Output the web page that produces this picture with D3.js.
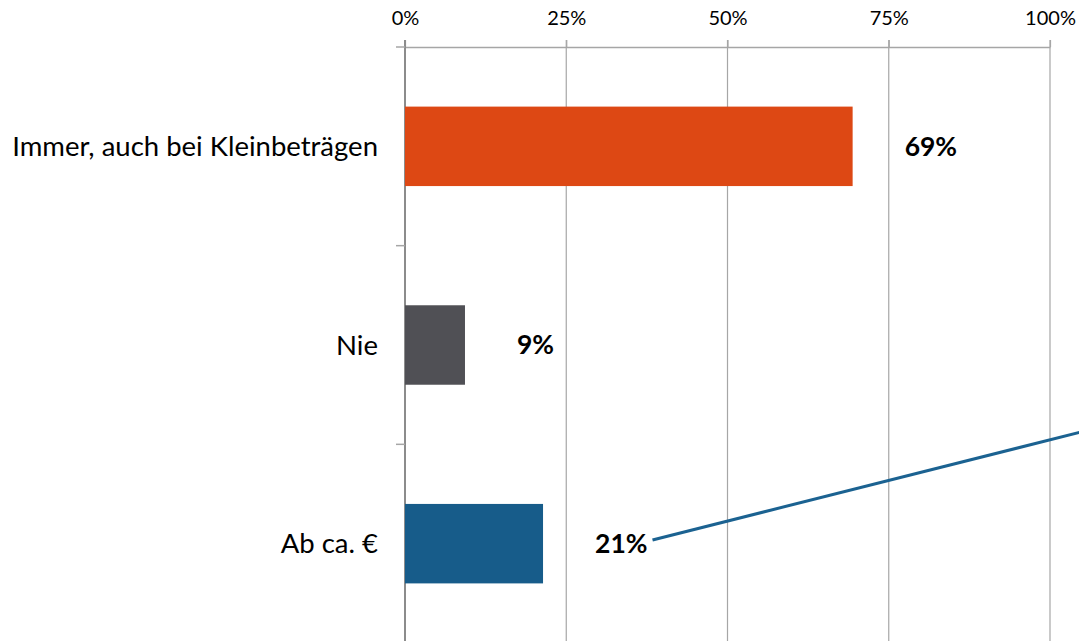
<!DOCTYPE html>
<html>
<head>
<meta charset="utf-8">
<script src="https://cdn.jsdelivr.net/npm/d3@7"></script>
<style>
  body { margin: 0; background: #fff; }
  svg { display: block; font-family: Lato, "Open Sans", sans-serif; }
</style>
</head>
<body>
<script>
// chart data
var categories = ["Immer, auch bei Kleinbeträgen", "Nie", "Ab ca. €"];
var values = [69.4, 9.3, 21.4];
var colors = ["#dd4814", "#505055", "#175c8a"];
var ticks = [0, 25, 50, 75, 100];

var width = 1079,
    height = 641;
var margin = {top: 47, right: 29, bottom: -2, left: 405};

var svg = d3.select("body").append("svg").attr("width", width).attr("height", height);

var x = d3.scaleLinear()
    .domain([0, 100])
    .range([margin.left, width - margin.right]);

var y = d3.scaleBand()
    .domain(categories)
    .range([margin.top, height - margin.bottom])
    .paddingInner(0.6)
    .paddingOuter(0.3);

// vertical gridlines
svg.append("g").selectAll("line").data(ticks).enter().append("line")
    .attr("x1", d => x(d)).attr("x2", d => x(d))
    .attr("y1", margin.top - 7).attr("y2", height)
    .attr("stroke", "#a6a6a6")
    .attr("stroke-width", 1.2);

// top axis
var gx = svg.append("g")
    .attr("transform", "translate(0," + margin.top + ")")
    .call(d3.axisTop(x).tickValues(ticks).tickFormat(d => d + "%")
        .tickSizeInner(7).tickSizeOuter(0).tickPadding(15));
gx.select(".domain").attr("stroke", "#a6a6a6").attr("stroke-width", 1.5);
gx.selectAll(".tick line").attr("stroke", "#a6a6a6").attr("stroke-width", 1.2);
gx.selectAll("text").attr("font-size", 20).attr("fill", "#000")
    .attr("font-family", "Lato, sans-serif");

// category axis, ticks on band boundaries
var bounds = categories.map(c => y(c) - y.step() * y.paddingInner() / 2);
bounds.push(y(categories[categories.length - 1]) + y.bandwidth() + y.step() * y.paddingInner() / 2);
var gy = svg.append("g");
gy.append("line")
    .attr("x1", x(0)).attr("x2", x(0))
    .attr("y1", margin.top - 7).attr("y2", height)
    .attr("stroke", "#8c8c8c").attr("stroke-width", 2);
gy.selectAll("line.tk").data(bounds).enter().append("line")
    .attr("class", "tk")
    .attr("x1", x(0) - 9).attr("x2", x(0))
    .attr("y1", d => d).attr("y2", d => d)
    .attr("stroke", "#a6a6a6").attr("stroke-width", 1.5);
gy.selectAll("text").data(categories).enter().append("text")
    .attr("x", x(0) - 27)
    .attr("y", d => y(d) + y.bandwidth() / 2)
    .attr("dy", "0.35em")
    .attr("text-anchor", "end")
    .attr("font-size", 27.5)
    .attr("fill", "#000")
    .text(d => d);

// bars
var data = categories.map((c, i) => ({cat: c, value: values[i], color: colors[i]}));
svg.append("g").selectAll("rect").data(data).enter().append("rect")
    .attr("x", x(0))
    .attr("y", d => y(d.cat))
    .attr("width", d => x(d.value) - x(0))
    .attr("height", y.bandwidth())
    .attr("fill", d => d.color);

// value labels
var labels = svg.append("g").selectAll("text").data(data).enter().append("text")
    .attr("x", d => x(d.value) + 52)
    .attr("y", d => y(d.cat) + y.bandwidth() / 2)
    .attr("dy", "0.35em")
    .attr("font-size", 26.5)
    .attr("font-weight", "bold")
    .attr("fill", "#000")
    .text(d => d3.format(".0f")(d.value) + "%");

// leader line from the last label toward the right edge
var last = labels.filter((d, i) => i === 2).node().getBBox();
var x0 = last.x + last.width + 5, y0 = last.y + last.height / 2 - 3;
var x1 = x(110), y1 = y0 - 0.252 * (x1 - x0);
svg.append("line")
    .attr("x1", x0).attr("y1", y0)
    .attr("x2", x1).attr("y2", y1)
    .attr("stroke", "#1b6291")
    .attr("stroke-width", 3);
</script>
</body>
</html>
